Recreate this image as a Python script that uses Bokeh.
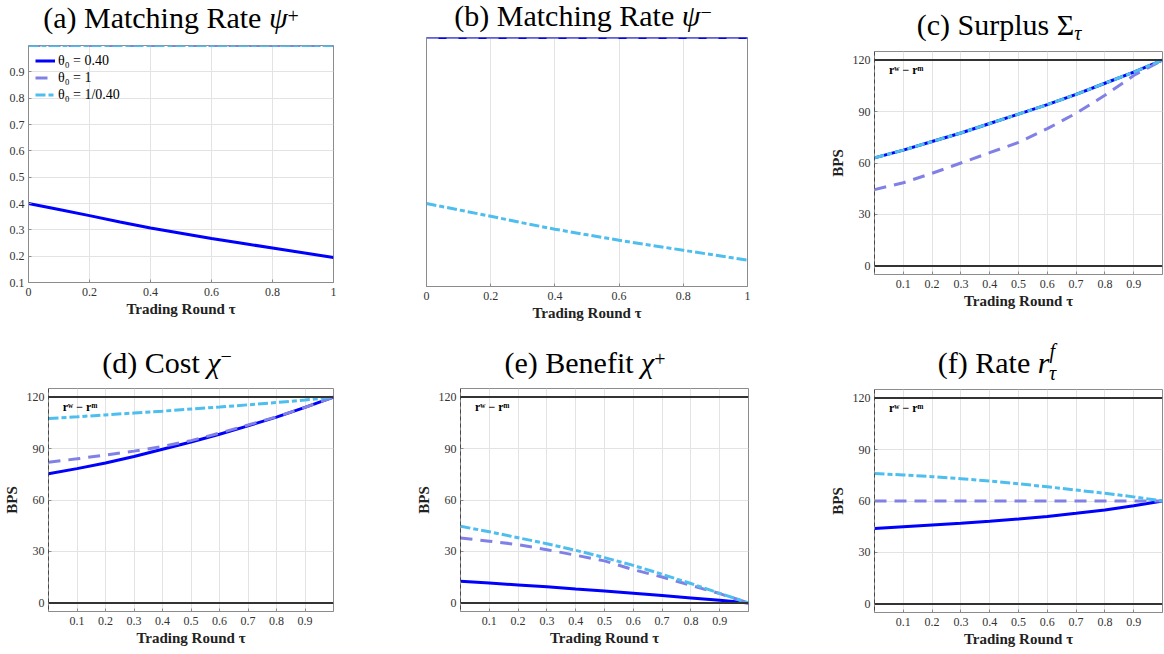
from bokeh.plotting import figure
from bokeh.layouts import column, row
from bokeh.models import (FixedTicker, CustomJSTickFormatter, Span, Label, Legend,
                          LegendItem, Range1d, Div)
from bokeh.embed import file_html
from bokeh.resources import INLINE

# ---------------- data ----------------
tau = [0.0, 0.1, 0.2, 0.3, 0.4, 0.5, 0.6, 0.7, 0.8, 0.9, 1.0]
labels = ["θ₀ = 0.40", "θ₀ = 1", "θ₀ = 1/0.40"]

psi_plus_low = [0.400, 0.377, 0.354, 0.330, 0.307, 0.287, 0.267, 0.249, 0.231, 0.213, 0.195]
psi_plus_mid = [1.0, 1.0, 1.0, 1.0, 1.0, 1.0, 1.0, 1.0, 1.0, 1.0, 1.0]
psi_plus_high = [1.0, 1.0, 1.0, 1.0, 1.0, 1.0, 1.0, 1.0, 1.0, 1.0, 1.0]

psi_minus_low = [1.0, 1.0, 1.0, 1.0, 1.0, 1.0, 1.0, 1.0, 1.0, 1.0, 1.0]
psi_minus_mid = [1.0, 1.0, 1.0, 1.0, 1.0, 1.0, 1.0, 1.0, 1.0, 1.0, 1.0]
psi_minus_high = [0.400, 0.377, 0.354, 0.330, 0.307, 0.287, 0.267, 0.249, 0.231, 0.213, 0.195]

surplus_low = [63.0, 67.5, 72.5, 77.5, 83.0, 88.5, 94.0, 100.0, 106.5, 113.0, 120.0]
surplus_mid = [44.5, 48.5, 54.0, 60.0, 66.0, 72.0, 80.0, 89.0, 99.5, 111.0, 120.0]
surplus_high = [63.0, 67.5, 72.5, 77.5, 83.0, 88.5, 94.0, 100.0, 106.5, 113.0, 120.0]

cost_low = [75.3, 78.3, 81.6, 85.4, 89.6, 93.8, 98.3, 103.2, 108.3, 114.0, 120.0]
cost_mid = [82.0, 84.0, 86.2, 88.5, 91.2, 94.6, 99.0, 103.7, 108.5, 114.0, 120.0]
cost_high = [107.5, 108.5, 109.6, 110.7, 111.8, 113.0, 114.2, 115.5, 116.8, 118.3, 120.0]

benefit_low = [12.6, 11.6, 10.5, 9.4, 8.1, 6.9, 5.6, 4.3, 2.9, 1.5, 0.0]
benefit_mid = [37.9, 36.0, 34.0, 31.0, 27.8, 24.5, 19.4, 15.1, 10.3, 5.4, 0.0]
benefit_high = [44.7, 41.5, 38.0, 34.5, 30.7, 26.4, 21.9, 16.7, 11.3, 5.6, 0.0]

rate_low = [44.0, 45.0, 46.0, 47.0, 48.2, 49.5, 51.0, 52.8, 54.8, 57.2, 60.0]
rate_mid = [60.0, 60.0, 60.0, 60.0, 60.0, 60.0, 60.0, 60.0, 60.0, 60.0, 60.0]
rate_high = [76.0, 75.2, 74.2, 73.0, 71.6, 70.0, 68.3, 66.4, 64.5, 62.4, 60.0]

spread_bps = 120.0   # r^w - r^m
zero_bps = 0.0

xticks_full = [0.0, 0.2, 0.4, 0.6, 0.8, 1.0]
xticks_inner = [0.1, 0.2, 0.3, 0.4, 0.5, 0.6, 0.7, 0.8, 0.9]
yticks_rate = [0.1, 0.2, 0.3, 0.4, 0.5, 0.6, 0.7, 0.8, 0.9]
yticks_bps = [0, 30, 60, 90, 120]

# ---------------- style ----------------
BLUE = "#0000FF"
PURPLE = "#8080E6"
CYAN = "#4DBEEE"
SERIF = "Liberation Serif"
BOX = "#8c8c8c"
GRID = "#e3e3e3"
FMT = "return String(Number(tick.toFixed(2)));"


def make_fig(w, h, left, right, top, bottom, yr, xticks, yticks, bps):
    p = figure(width=w, height=h, min_border_left=left, min_border_right=right,
               min_border_top=top, min_border_bottom=bottom,
               x_range=Range1d(0, 1), y_range=Range1d(*yr),
               output_backend="svg", toolbar_location=None)
    p.outline_line_color = BOX
    p.outline_line_width = 1
    p.background_fill_color = "white"
    p.border_fill_color = "white"
    for ax in (p.xaxis[0], p.yaxis[0]):
        ax.axis_line_color = BOX
        ax.major_tick_line_color = BOX
        ax.major_tick_in = 3
        ax.major_tick_out = 0
        ax.minor_tick_line_color = None
        ax.major_label_text_font = SERIF
        ax.major_label_text_font_size = "12px"
        ax.major_label_text_color = "#333333"
        ax.formatter = CustomJSTickFormatter(code=FMT)
        ax.axis_label_text_font = SERIF
        ax.axis_label_text_font_style = "bold"
        ax.axis_label_text_color = "#222222"
    p.xaxis.ticker = FixedTicker(ticks=xticks)
    p.yaxis.ticker = FixedTicker(ticks=yticks)
    p.xaxis.major_label_standoff = 5
    p.xaxis.axis_label = "Trading Round τ"
    p.xaxis.axis_label_text_font_size = "15px"
    p.xaxis.axis_label_standoff = 2
    p.yaxis.major_label_standoff = 4
    if bps:
        p.yaxis.axis_label = "BPS"
        p.yaxis.axis_label_text_font_size = "15px"
        p.yaxis.axis_label_standoff = 4
    p.grid.grid_line_color = GRID
    p.grid.grid_line_width = 1
    return p


def title_div(w, h, html, shift_x, top):
    inner = (f'<div style="position:relative; left:{shift_x}px; top:{top}px; width:{w}px; '
             f'text-align:center; white-space:nowrap; font-family:\'{SERIF}\'; '
             f'font-size:30px; line-height:30px; color:black;">{html}</div>')
    return Div(text=inner, width=w, height=h, margin=0)


def sup(t, raise_px, italic=False, extra=""):
    st = "font-style:italic;" if italic else ""
    return (f'<span style="font-size:20px; position:relative; top:{-raise_px}px; {st}{extra}">'
            f'{t}</span>')


def add_refs(p):
    p.add_layout(Span(location=zero_bps, dimension="height", line_color="black",
                      line_width=1, line_dash="4 3"))
    p.add_layout(Span(location=spread_bps, dimension="width", line_color="#333333",
                      line_width=2))
    p.add_layout(Span(location=zero_bps, dimension="width", line_color="#333333",
                      line_width=2))
    p.add_layout(Label(x=0.05, y=114.5, text="rʷ − rᵐ", text_font=SERIF,
                       text_font_size="12px", text_font_style="bold",
                       text_baseline="middle", text_color="black"))


def add_series(p, lo, mid, hi):
    r1 = p.line(tau, lo, line_color=BLUE, line_width=3)
    r2 = p.line(tau, mid, line_color=PURPLE, line_width=3, line_dash="12 8")
    r3 = p.line(tau, hi, line_color=CYAN, line_width=3, line_dash="10 3 5 3")
    return r1, r2, r3


YR_RATE = (0.1, 1.0)
YR_BPS = (-5, 125)

# ---- row 1 (total height 328) ----
pa = make_fig(400, 287, 28, 67, 4, 46, YR_RATE, xticks_full, yticks_rate, False)
ra = add_series(pa, psi_plus_low, psi_plus_mid, psi_plus_high)
leg = Legend(items=[LegendItem(label=l, renderers=[r]) for l, r in zip(labels, ra)],
             location="top_left", border_line_color=None, background_fill_alpha=0,
             label_text_font=SERIF, label_text_font_size="14px", label_text_color="black",
             glyph_width=20, glyph_height=17, label_height=17, spacing=0, padding=2,
             margin=7, label_standoff=3)
pa.add_layout(leg)
da = title_div(400, 41, "(a) Matching Rate <i>ψ</i>" + sup("+", 5), -29, 3)

pb = make_fig(372, 295, 26, 25, 4, 42, YR_RATE, xticks_full, [], False)
pb.ygrid.visible = False
add_series(pb, psi_minus_low, psi_minus_mid, psi_minus_high)
db = title_div(372, 33, "(b) Matching Rate <i>ψ</i>" + sup("−", 7), -3, 1)

pc = make_fig(392, 281, 102, 2, 4, 54, YR_BPS, xticks_inner, yticks_bps, True)
add_refs(pc)
add_series(pc, surplus_low, surplus_mid, surplus_high)
dc = title_div(392, 47, "(c) Surplus Σ" + sup("τ", -5, True), 31, 10)

# ---- row 2 (total height 324) ----
pd = make_fig(400, 268, 46, 67, 4, 41, YR_BPS, xticks_inner, yticks_bps, True)
add_refs(pd)
add_series(pd, cost_low, cost_mid, cost_high)
dd = title_div(400, 56, "(d) Cost <i>χ</i>" + sup("−", 10), -33, 20)

pe = make_fig(372, 268, 60, 24, 4, 41, YR_BPS, xticks_inner, yticks_bps, True)
add_refs(pe)
add_series(pe, benefit_low, benefit_mid, benefit_high)
de = title_div(372, 56, "(e) Benefit <i>χ</i>" + sup("+", 7), -1, 20)

pf = make_fig(392, 267, 102, 2, 4, 40, YR_BPS, xticks_inner, yticks_bps, True)
add_refs(pf)
add_series(pf, rate_low, rate_mid, rate_high)
df = title_div(392, 57, "(f) Rate <i>r</i>" + sup("f", 15, True)
               + sup("τ", -7, True, "margin-left:-6px;"), 29, 20)

layout = column(
    row(column(da, pa, spacing=0), column(db, pb, spacing=0), column(dc, pc, spacing=0), spacing=0),
    row(column(dd, pd, spacing=0), column(de, pe, spacing=0), column(df, pf, spacing=0), spacing=0),
    spacing=0)

open("out.html", "w").write(file_html(layout, INLINE))
